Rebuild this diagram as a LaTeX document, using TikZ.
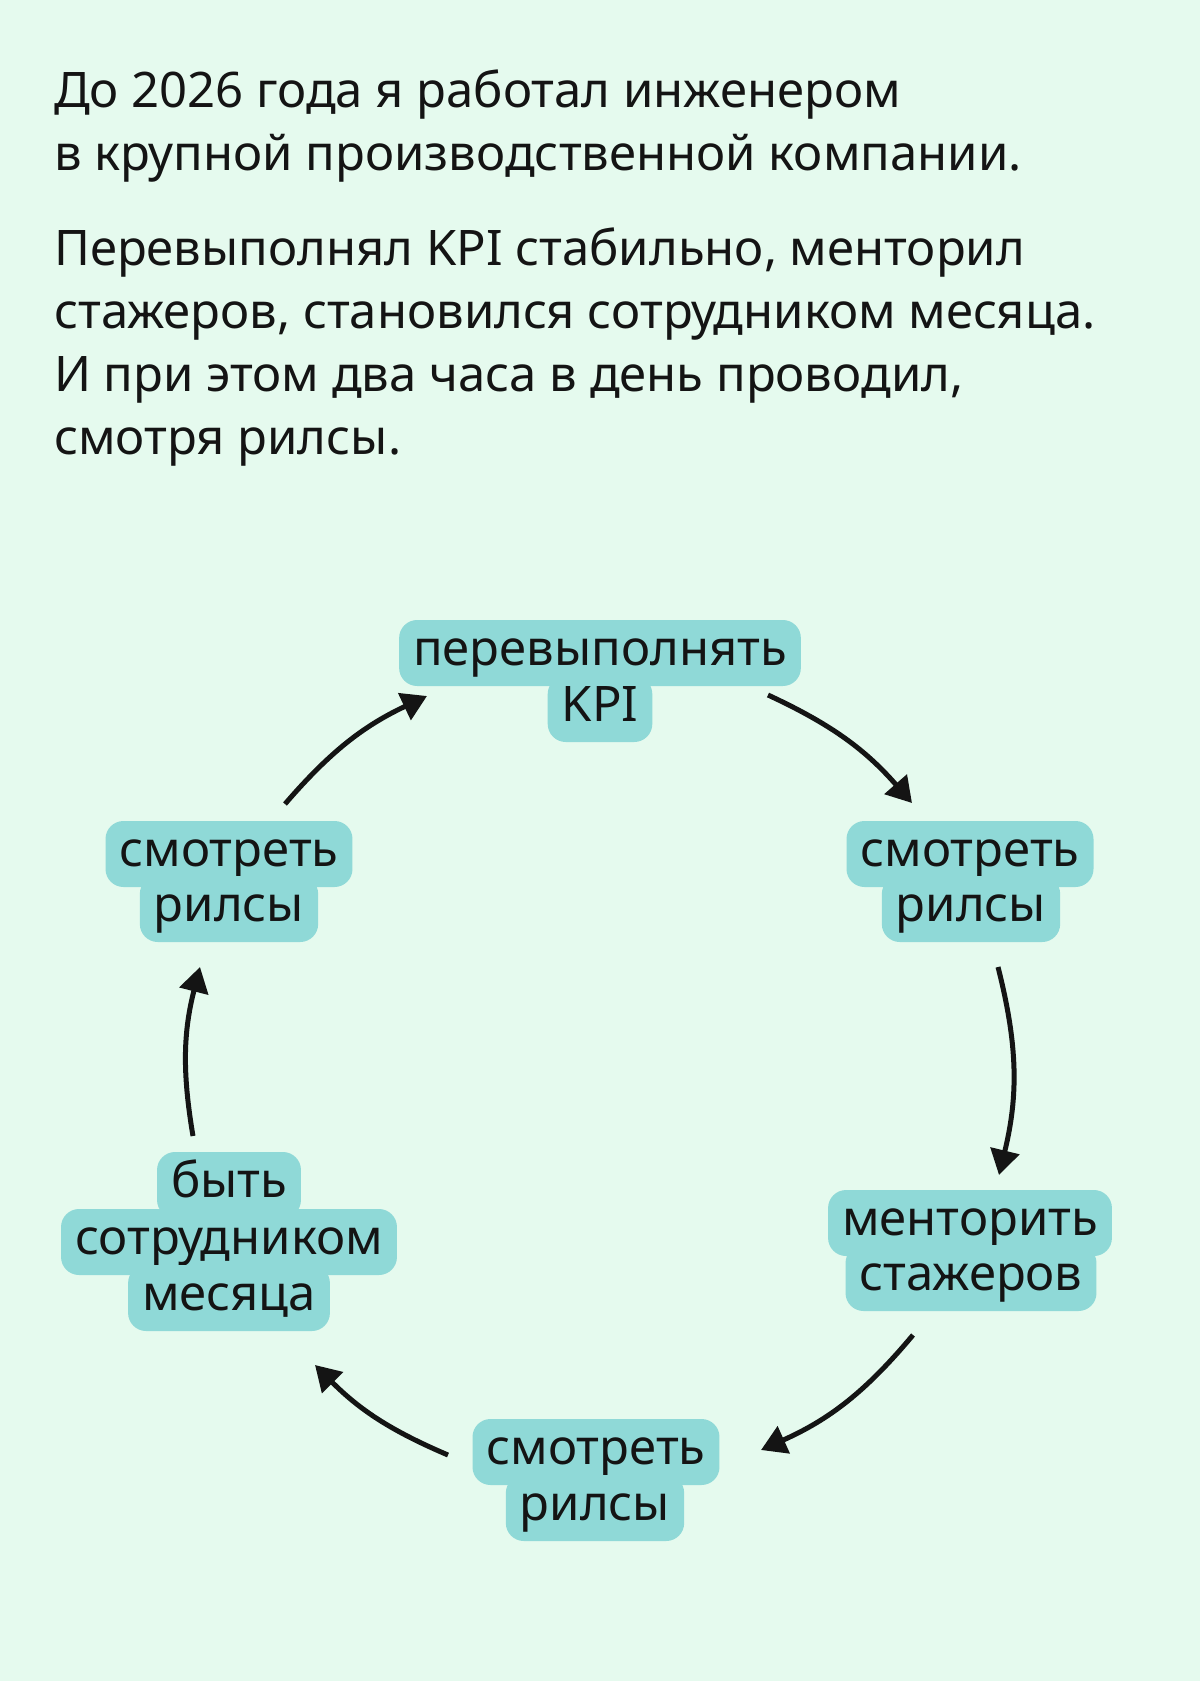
\documentclass[tikz,border=0pt]{standalone}
\usepackage{fontspec}
\setmainfont{Noto Sans}
\usepackage{tikz}
\usetikzlibrary{arrows.meta, positioning}
\definecolor{mint}{RGB}{229,250,238}
\definecolor{hlteal}{RGB}{143,217,215}
\definecolor{ink}{RGB}{20,20,20}
\tikzset{
  para/.style={anchor=base west, align=left, inner sep=0pt, text=ink,
               font=\fontsize{49}{63}\selectfont},
  tag/.style={anchor=base, fill=hlteal, rounded corners=18pt, inner xsep=14pt,
              inner ysep=8pt, text height=37pt, text depth=13pt, text=ink,
              font=\fontsize{49}{56}\selectfont},
  cyc/.style={-{Triangle[length=25pt, width=29pt]}, line width=5pt, draw=ink},
}

\begin{document}
\begin{tikzpicture}[x=1pt, y=1pt]
\fill[mint] (0,0) rectangle (1200,-1681);

% base of a multi-line node sits on its last line
\node[para] (intro) at (54,-170) {До 2026 года я работал инженером\\в крупной производственной компании.};
\node[para] (story) at (54,-454) {Перевыполнял KPI стабильно, менторил\\стажеров, становился сотрудником месяца.\\И при этом два часа в день проводил,\\смотря рилсы.};

% the cycle
\node[tag] (top1) at (600,-665)  {перевыполнять};
\node[tag] (top2) at (600,-721)  {KPI};
\node[tag] (ru1)  at (970,-866)  {смотреть};
\node[tag] (ru2)  at (971,-921)  {рилсы};
\node[tag] (rl1)  at (970,-1235) {менторить};
\node[tag] (rl2)  at (971,-1290) {стажеров};
\node[tag] (bot1) at (596,-1464) {смотреть};
\node[tag] (bot2) at (595,-1520) {рилсы};
\node[tag] (ll1)  at (229,-1197) {быть};
\node[tag] (ll2)  at (229,-1254) {сотрудником};
\node[tag] (ll3)  at (229,-1310) {месяца};
\node[tag] (lu1)  at (229,-866)  {смотреть};
\node[tag] (lu2)  at (229,-921)  {рилсы};

\draw[cyc] ([shift={(56,62)}]lu1.base)    to[bend left=12] ([shift={(-173,-31)}]top1.base);
\draw[cyc] ([shift={(168,-30)}]top1.base) to[bend left=12] ([shift={(-58,63)}]ru1.base);
\draw[cyc] ([shift={(27,-46)}]ru2.base)   to[bend left=14] ([shift={(29,60)}]rl1.base);
\draw[cyc] ([shift={(-58,-45)}]rl2.base)  to[bend left=13] ([shift={(165,14)}]bot1.base);
\draw[cyc] ([shift={(-148,9)}]bot1.base)  to[bend left=11] ([shift={(86,-55)}]ll3.base);
\draw[cyc] ([shift={(-36,61)}]ll1.base)   to[bend left=12] ([shift={(-29,-46)}]lu2.base);
\end{tikzpicture}
\end{document}
